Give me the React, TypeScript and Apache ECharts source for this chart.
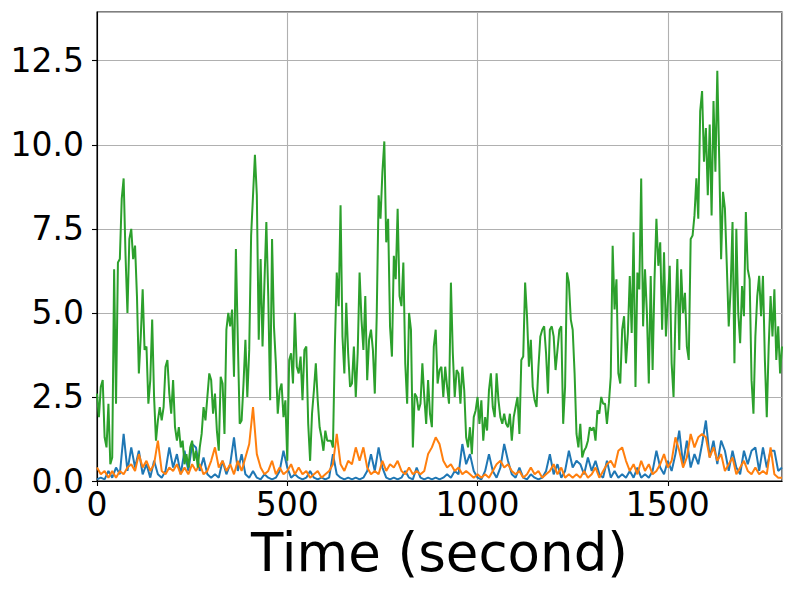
import { useEffect, useRef } from "react";
import * as echarts from "echarts";

// time step (seconds) between samples
const greenStep = 5;
const blueStep = 10;
const orangeStep = 10;

const xTickValues = [0, 500, 1000, 1500];
const yTickValues = [0, 2.5, 5, 7.5, 10, 12.5];

const greenValues = [
  2.6, 1.9, 2.8, 3.0, 1.3, 1.0, 2.3, 0.5, 0.7, 6.3, 2.3, 6.5,
  6.6, 8.4, 9.0, 6.7, 5.0, 7.2, 7.5, 6.6, 7.0, 5.5, 3.2, 4.3,
  5.7, 3.9, 4.0, 2.3, 3.0, 4.8, 2.5, 1.2, 1.8, 2.2, 1.8, 2.2,
  3.4, 3.6, 2.6, 2.0, 3.0, 1.6, 1.2, 1.6, 1.0, 1.2, 0.5, 0.8,
  0.4, 1.0, 1.2, 0.6, 0.9, 0.4, 1.0, 1.4, 2.2, 1.8, 2.5, 3.2,
  3.0, 2.0, 2.6, 1.5, 0.9, 3.1, 2.9, 1.4, 4.5, 5.0, 4.6, 5.1,
  3.1, 6.9, 4.2, 1.7, 1.8, 2.9, 4.2, 2.5, 3.9, 7.3, 8.5, 9.7,
  8.5, 4.2, 6.6, 4.0, 5.9, 7.7, 5.5, 2.4, 7.2, 4.6, 3.5, 2.0,
  2.7, 2.9, 1.9, 2.4, 0.6, 3.6, 3.8, 2.9, 5.0, 3.4, 3.2, 3.7,
  2.4, 3.9, 4.0, 1.7, 0.6, 2.0, 2.7, 3.5, 2.4, 1.6, 1.3, 0.9,
  1.5, 1.2, 1.2, 1.2, 1.0, 4.0, 6.2, 5.2, 8.2, 4.3, 3.2, 5.3,
  3.8, 2.8, 2.9, 4.0, 2.5, 3.8, 6.2, 4.8, 3.9, 5.5, 3.0, 4.2,
  4.5, 3.9, 2.6, 4.9, 8.5, 7.8, 9.2, 10.1, 7.1, 7.8, 4.6, 3.7,
  6.7, 6.0, 8.1, 5.5, 5.2, 6.5, 3.5, 2.3, 5.0, 4.5, 1.0, 2.6,
  2.5, 2.1, 2.3, 3.5, 2.5, 1.7, 3.0, 2.0, 1.6, 4.0, 4.5, 2.9,
  3.3, 3.4, 2.5, 3.4, 2.8, 2.3, 5.9, 3.8, 2.5, 3.3, 3.2, 2.3,
  3.4, 2.7, 1.3, 1.0, 1.6, 0.8, 1.9, 2.1, 2.5, 1.7, 2.4, 1.2,
  1.9, 1.5, 2.7, 3.2, 2.2, 1.9, 3.2, 2.4, 1.9, 1.7, 2.0, 1.7,
  1.6, 2.0, 1.2, 1.9, 2.2, 2.5, 1.4, 3.6, 3.7, 5.9, 4.9, 3.4,
  4.2, 2.8, 2.4, 2.2, 3.4, 4.3, 4.5, 4.6, 3.8, 2.6, 4.5, 4.6,
  4.3, 3.3, 3.9, 4.5, 4.6, 1.7, 2.8, 6.2, 5.9, 4.8, 4.5, 3.2,
  1.4, 1.0, 1.7, 0.7, 0.9, 1.0, 1.2, 1.6, 1.5, 1.6, 1.2, 2.1,
  2.0, 2.5, 2.3, 2.3, 1.7, 2.3, 3.1, 7.0, 5.1, 6.0, 3.2, 2.9,
  4.5, 4.9, 3.5, 4.4, 6.1, 4.4, 7.4, 2.8, 6.2, 5.7, 9.0, 4.6,
  6.3, 5.0, 2.9, 6.1, 3.3, 6.0, 7.8, 6.4, 7.1, 4.5, 6.8, 4.3,
  5.4, 6.4, 3.5, 2.5, 4.9, 6.6, 3.9, 6.3, 5.0, 5.6, 4.0, 3.6,
  7.2, 7.3, 7.9, 9.0, 7.8, 11.0, 11.6, 9.5, 10.5, 8.5, 10.6, 7.9,
  11.3, 9.2, 12.2, 9.6, 6.6, 8.6, 8.1, 6.4, 4.6, 5.7, 7.7, 3.5,
  7.5, 5.0, 4.1, 5.8, 4.9, 8.0, 6.3, 6.0, 3.0, 2.0, 4.3, 5.5,
  6.1, 4.9, 6.1, 3.6, 1.9, 4.0, 5.5, 4.3, 5.7, 3.6, 4.6, 3.2,
  4.0,
];

const blueValues = [
  0.05, 0.1, 0.05, 0.3, 0.1, 0.4, 0.2, 1.4, 0.3, 1.0,
  0.4, 0.9, 0.2, 0.5, 0.1, 0.6, 0.2, 0.1, 0.3, 1.0,
  0.4, 0.8, 0.2, 0.9, 0.3, 1.1, 1.0, 0.3, 0.7, 0.2,
  0.1, 0.2, 0.1, 0.6, 0.2, 0.5, 1.3, 0.3, 0.8, 0.2,
  0.1, 0.3, 0.1, 0.05, 0.2, 0.1, 0.05, 0.1, 0.3, 0.9,
  0.4, 0.1, 0.2, 0.1, 0.05, 0.1, 0.3, 0.1, 0.05, 0.1,
  0.05, 0.1, 0.8, 0.2, 0.1, 0.05, 0.1, 0.05, 0.1, 0.05,
  0.1, 0.3, 0.8, 0.3, 1.0, 0.4, 0.1, 0.05, 0.1, 0.05,
  0.1, 0.3, 0.1, 0.05, 0.4, 0.1, 0.05, 0.1, 0.05, 0.1,
  0.05, 0.1, 0.2, 0.1, 0.3, 0.2, 1.1, 0.5, 0.8, 0.3,
  0.1, 0.05, 0.3, 0.8, 0.3, 0.1, 0.4, 1.1, 0.6, 0.2,
  0.1, 0.4, 0.1, 0.05, 0.2, 0.1, 0.05, 0.1, 0.3, 0.8,
  0.2, 0.5, 0.1, 0.3, 0.9, 0.4, 0.6, 0.5, 0.2, 0.7,
  0.3, 0.6, 0.2, 0.1, 0.6, 0.1, 0.3, 0.1, 0.2, 0.1,
  0.3, 0.1, 0.4, 0.1, 0.2, 0.1, 0.3, 0.9, 0.4, 0.2,
  0.6, 0.3, 0.8, 1.5, 0.5, 1.2, 0.4, 0.8, 0.5, 1.1,
  1.8, 0.7, 1.2, 0.5, 1.2, 0.9, 0.3, 0.9, 0.4, 0.2,
  0.9, 0.5, 0.9, 1.0, 0.3, 1.0, 0.4, 0.9, 0.9, 0.3,
  0.4,
];

const orangeValues = [
  0.4, 0.2, 0.3, 0.1, 0.3, 0.1, 0.3, 0.2, 0.4, 0.5,
  0.3, 0.8, 0.4, 0.6, 0.3, 0.5, 1.2, 0.3, 0.2, 0.4,
  0.3, 0.5, 0.2, 0.4, 0.2, 0.5, 0.3, 0.5, 0.2, 0.3,
  0.6, 1.0, 0.4, 0.6, 0.3, 0.5, 0.2, 0.6, 0.3, 0.7,
  1.1, 2.2, 0.8, 0.4, 0.2, 0.3, 0.6, 0.2, 0.4, 0.2,
  0.3, 0.5, 0.2, 0.4, 0.2, 0.3, 0.1, 0.2, 0.3, 0.1,
  0.2, 0.3, 0.5, 1.4, 0.5, 0.3, 0.6, 0.5, 1.0, 0.6,
  1.0, 0.4, 0.2, 0.3, 0.2, 0.6, 0.3, 0.5, 0.4, 0.6,
  0.3, 0.2, 0.4, 0.2, 0.3, 0.2, 0.3, 0.8, 1.0, 1.3,
  1.1, 0.6, 0.4, 0.5, 0.3, 0.4, 0.2, 0.3, 0.2, 0.1,
  0.2, 0.1, 0.2, 0.1, 0.3, 0.5, 0.6, 0.4, 0.5, 0.3,
  0.2, 0.3, 0.1, 0.2, 0.4, 0.2, 0.3, 0.1, 0.2, 0.3,
  0.5, 0.2, 0.4, 0.1, 0.2, 0.1, 0.2, 0.1, 0.3, 0.1,
  0.2, 0.4, 0.1, 0.3, 0.5, 0.6, 0.4, 0.9, 1.0, 0.6,
  0.3, 0.5, 0.2, 0.6, 0.3, 0.5, 0.2, 0.3, 0.5, 0.8,
  0.4, 0.6, 1.3, 0.9, 0.4, 0.7, 1.4, 1.0, 1.3, 1.4,
  1.3, 0.7, 1.0, 0.6, 0.8, 0.3, 0.5, 0.7, 0.2, 0.4,
  0.6, 0.3, 0.2, 0.4, 0.2, 0.3, 0.2, 1.0, 0.2, 0.1,
  0.1,
];

const toPairs = (values: number[], step: number) =>
  values.map((v, i) => [i * step, v]);

const FONT = "DejaVu Sans";

export default function App() {
  const ref = useRef<HTMLDivElement>(null);

  useEffect(() => {
    if (!ref.current) return;
    const chart = echarts.init(ref.current, undefined, { renderer: "svg" });
    chart.setOption({
      animation: false,
      backgroundColor: "#ffffff",
      grid: {
        left: 97,
        right: 11,
        top: 12,
        bottom: 113,
        show: true,
        borderColor: "#000000",
        borderWidth: 1.1,
        backgroundColor: "transparent",
      },
      xAxis: {
        type: "value",
        min: 0,
        max: 1800,
        interval: 500,
        name: "Time (second)",
        nameLocation: "middle",
        nameGap: 44,
        nameTextStyle: { fontSize: 53, color: "#000", fontFamily: FONT },
        axisLine: { show: true, onZero: false, lineStyle: { color: "#000", width: 1.1 } },
        axisTick: { show: true, length: 5, lineStyle: { color: "#000", width: 1.1 } },
        axisLabel: {
          fontSize: 33,
          color: "#000",
          fontFamily: FONT,
          margin: 7,
          showMaxLabel: false,
          formatter: (v: number) => (xTickValues.includes(v) ? String(v) : ""),
        },
        splitLine: { show: true, lineStyle: { color: "#b0b0b0", width: 1.1 } },
      },
      yAxis: {
        type: "value",
        min: 0,
        max: 13.95,
        interval: 2.5,
        axisLine: { show: true, onZero: false, lineStyle: { color: "#000", width: 1.1 } },
        axisTick: { show: true, length: 5, lineStyle: { color: "#000", width: 1.1 } },
        axisLabel: {
          fontSize: 33,
          color: "#000",
          fontFamily: FONT,
          margin: 13,
          showMaxLabel: false,
          formatter: (v: number) => (yTickValues.includes(v) ? v.toFixed(1) : ""),
        },
        splitLine: { show: true, lineStyle: { color: "#b0b0b0", width: 1.1 } },
      },
      series: [
        {
          type: "line",
          data: toPairs(blueValues, blueStep),
          showSymbol: false,
          symbol: "none",
          lineStyle: { color: "#1f77b4", width: 2 },
          itemStyle: { color: "#1f77b4" },
        },
        {
          type: "line",
          data: toPairs(orangeValues, orangeStep),
          showSymbol: false,
          symbol: "none",
          lineStyle: { color: "#ff7f0e", width: 2 },
          itemStyle: { color: "#ff7f0e" },
        },
        {
          type: "line",
          data: toPairs(greenValues, greenStep),
          showSymbol: false,
          symbol: "none",
          lineStyle: { color: "#2ca02c", width: 2 },
          itemStyle: { color: "#2ca02c" },
        },
      ],
    });
    return () => chart.dispose();
  }, []);

  return (
    <div
      ref={ref}
      style={{ position: "fixed", left: 0, top: 0, width: 793, height: 594, background: "#fff" }}
    />
  );
}
